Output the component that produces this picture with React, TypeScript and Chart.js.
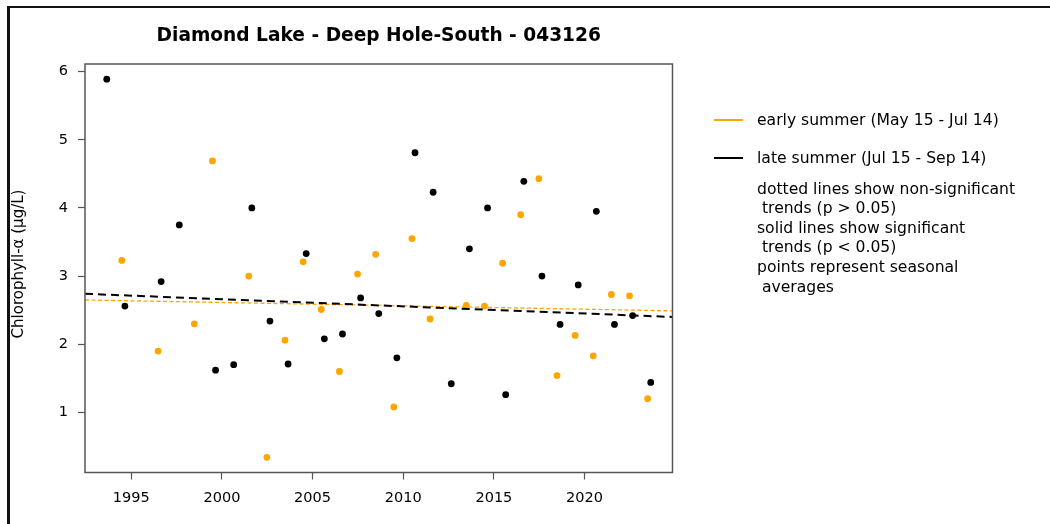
import { useEffect, useRef } from "react";
import { Chart, registerables } from "chart.js";

Chart.register(...registerables);

// Seasonal average chlorophyll-a (µg/L) by year
const earlyYears = [1994, 1996, 1998, 1999, 2001, 2002, 2003, 2004, 2005, 2006, 2007, 2008, 2009, 2010, 2011, 2013, 2014, 2015, 2016, 2017, 2018, 2019, 2020, 2021, 2022, 2023];
const earlyValues = [3.23, 1.9, 2.3, 4.69, 3.0, 0.34, 2.06, 3.21, 2.51, 1.6, 3.03, 3.32, 1.08, 3.55, 2.37, 2.57, 2.56, 3.19, 3.9, 4.43, 1.54, 2.13, 1.83, 2.73, 2.71, 1.2];
const lateYears = [1993, 1994, 1996, 1997, 1999, 2000, 2001, 2002, 2003, 2004, 2005, 2006, 2007, 2008, 2009, 2010, 2011, 2012, 2013, 2014, 2015, 2016, 2017, 2018, 2019, 2020, 2021, 2022, 2023];
const lateValues = [5.89, 2.56, 2.92, 3.75, 1.62, 1.7, 4.0, 2.34, 1.71, 3.33, 2.08, 2.15, 2.68, 2.45, 1.8, 4.81, 4.23, 1.42, 3.4, 4.0, 1.26, 4.39, 3.0, 2.29, 2.87, 3.95, 2.29, 2.42, 1.44];

// Fraction of the year at which each season's average is plotted
const earlySeasonOffset = 0.48;
const lateSeasonOffset = 0.65;

// Trend line values at the left and right ends of the x range
const earlyTrend = [2.65, 2.49];
const lateTrend = [2.74, 2.4];

const xRange = [1992.45, 2024.85];
const yRange = [0.118, 6.112];
const xTickValues = [1995, 2000, 2005, 2010, 2015, 2020];
const yTickValues = [1, 2, 3, 4, 5, 6];

const titleText = "Diamond Lake - Deep Hole-South - 043126";
const yAxisTitle = "Chlorophyll-\u03b1 (\u03bcg/L)";
const legendSeries = [
  { label: "early summer (May 15 - Jul 14)", color: "#FFA500" },
  { label: "late summer (Jul 15 - Sep 14)", color: "#000000" },
];
const legendNotes = [
  "dotted lines show non-significant",
  " trends (p > 0.05)",
  "solid lines show significant",
  " trends (p < 0.05)",
  "points represent seasonal",
  " averages",
];

const FONT = "'DejaVu Sans', sans-serif";
const ORANGE = "#FFA500";
const AXIS_GRAY = "#555555";

const decorPlugin = {
  id: "decor",
  afterDraw(chart: any) {
    const { ctx, chartArea } = chart;
    const { left, right, top, bottom } = chartArea;
    ctx.save();

    // outer frame
    ctx.fillStyle = "#111";
    ctx.fillRect(7, 6, 3, 524);
    ctx.fillRect(7, 6, 1050, 2);

    // plot box
    ctx.strokeStyle = AXIS_GRAY;
    ctx.lineWidth = 1.5;
    ctx.strokeRect(left, top, right - left, bottom - top);

    // title
    ctx.fillStyle = "#000";
    ctx.font = `bold 18.6px ${FONT}`;
    ctx.textAlign = "center";
    ctx.textBaseline = "middle";
    ctx.fillText(titleText, (left + right) / 2, 36.5);

    // y-axis title
    ctx.save();
    ctx.translate(19, 264);
    ctx.rotate(-Math.PI / 2);
    ctx.font = `15px ${FONT}`;
    ctx.fillText(yAxisTitle, 0, 0);
    ctx.restore();

    // legend
    ctx.font = `15.6px ${FONT}`;
    ctx.textAlign = "left";
    ctx.textBaseline = "middle";
    legendSeries.forEach((s, i) => {
      const y = 120 + i * 38;
      ctx.strokeStyle = s.color;
      ctx.lineWidth = 2;
      ctx.setLineDash([]);
      ctx.beginPath();
      ctx.moveTo(714, y);
      ctx.lineTo(743, y);
      ctx.stroke();
      ctx.fillStyle = "#000";
      ctx.fillText(s.label, 757, y + 0.5);
    });
    legendNotes.forEach((t, i) => {
      ctx.fillText(t, 757, 189.5 + i * 19.6);
    });

    ctx.restore();
  },
};

export default function App() {
  const canvasRef = useRef<HTMLCanvasElement | null>(null);

  useEffect(() => {
    const canvas = canvasRef.current;
    if (!canvas) return;

    const earlyPoints = earlyYears.map((yr, i) => ({ x: yr + earlySeasonOffset, y: earlyValues[i] }));
    const latePoints = lateYears.map((yr, i) => ({ x: yr + lateSeasonOffset, y: lateValues[i] }));

    const chart = new Chart(canvas, {
      type: "scatter",
      data: {
        datasets: [
          {
            type: "line",
            label: "early trend",
            data: [
              { x: xRange[0], y: earlyTrend[0] },
              { x: xRange[1], y: earlyTrend[1] },
            ],
            borderColor: ORANGE,
            borderWidth: 1.3,
            borderDash: [4, 2.5],
            pointRadius: 0,
            fill: false,
            order: 1,
          },
          {
            type: "line",
            label: "late trend",
            data: [
              { x: xRange[0], y: lateTrend[0] },
              { x: xRange[1], y: lateTrend[1] },
            ],
            borderColor: "#000",
            borderWidth: 2,
            borderDash: [8, 5],
            pointRadius: 0,
            fill: false,
            order: 0,
          },
          {
            label: "early summer",
            data: earlyPoints,
            pointRadius: 3.4,
            pointBorderWidth: 0,
            pointBackgroundColor: ORANGE,
            borderColor: ORANGE,
            order: 3,
          },
          {
            label: "late summer",
            data: latePoints,
            pointRadius: 3.4,
            pointBorderWidth: 0,
            pointBackgroundColor: "#000",
            borderColor: "#000",
            order: 2,
          },
        ],
      },
      options: {
        responsive: false,
        animation: false,
        events: [],
        layout: { padding: { left: 0, right: 377.5, top: 64, bottom: 0 } },
        plugins: {
          legend: { display: false },
          tooltip: { enabled: false },
          title: { display: false },
        },
        scales: {
          x: {
            type: "linear",
            min: xRange[0],
            max: xRange[1],
            afterBuildTicks: (scale: any) => {
              scale.ticks = xTickValues.map((v) => ({ value: v }));
            },
            afterFit: (scale: any) => {
              scale.height = 51.5;
            },
            border: { display: false },
            grid: {
              drawOnChartArea: false,
              drawTicks: true,
              tickLength: 7,
              tickColor: AXIS_GRAY,
              tickWidth: 1.2,
            },
            ticks: {
              color: "#000",
              font: { family: FONT, size: 14.5 },
              padding: 10,
              maxRotation: 0,
              callback: (v: any) => String(v),
            },
          },
          y: {
            type: "linear",
            min: yRange[0],
            max: yRange[1],
            afterBuildTicks: (scale: any) => {
              scale.ticks = yTickValues.map((v) => ({ value: v }));
            },
            afterFit: (scale: any) => {
              scale.width = 85;
            },
            border: { display: false },
            grid: {
              drawOnChartArea: false,
              drawTicks: true,
              tickLength: 7,
              tickColor: AXIS_GRAY,
              tickWidth: 1.2,
            },
            ticks: {
              color: "#000",
              font: { family: FONT, size: 14.5 },
              padding: 10,
              callback: (v: any) => String(v),
            },
          },
        },
      },
      plugins: [decorPlugin],
    });

    return () => chart.destroy();
  }, []);

  return (
    <div style={{ position: "absolute", left: 0, top: 0, width: 1050, height: 524, background: "#fff" }}>
      <canvas ref={canvasRef} width={1050} height={524} style={{ display: "block" }} />
    </div>
  );
}
